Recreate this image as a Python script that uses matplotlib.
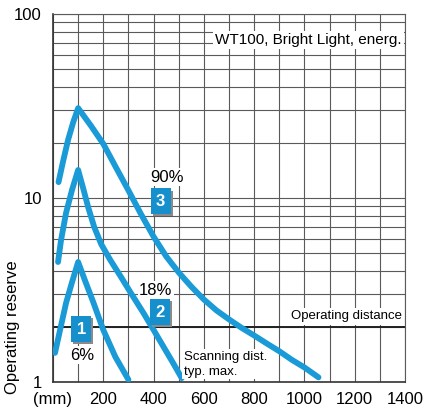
import matplotlib.pyplot as plt
import matplotlib.patheffects as pe
import numpy as np

plt.rcParams['font.family'] = ['Liberation Sans', 'DejaVu Sans']

# curve 1 (6 %)
dist1 = [8, 30, 52, 76, 100, 128, 160, 200, 248, 300]
res1 = [1.44, 1.97, 2.69, 3.5, 4.49, 3.54, 2.72, 1.92, 1.37, 1.03]
# curve 2 (18 %)
dist2 = [20, 32, 52, 76, 100, 120, 140, 164, 192, 228, 268, 312, 360, 400, 440, 476, 512]
res2 = [4.49, 5.9, 8.3, 11.1, 14.2, 11.3, 8.9, 6.95, 5.6, 4.60, 3.77, 3.01, 2.37, 1.92, 1.55, 1.28, 1.05]
# curve 3 (90 %)
dist3 = [22, 40, 60, 80, 100, 150, 200, 250, 300, 350, 400, 450, 500, 550, 600,
         650, 700, 750, 800, 850, 900, 950, 1000, 1056]
res3 = [12.2, 15.8, 20.7, 25.7, 30.8, 24.8, 19.7, 14.7, 11.0, 8.17, 6.17, 4.82, 3.94, 3.30, 2.81,
        2.45, 2.19, 1.97, 1.79, 1.62, 1.47, 1.32, 1.20, 1.06]

xticks = [0, 200, 400, 600, 800, 1000, 1200, 1400]
xticklabels = ['(mm)', '200', '400', '600', '800', '1000', '1200', '1400']
yticks = [1, 10, 100]
yticklabels = ['1', '10', '100']

blue = '#1a9ad6'
grid = '#5a5a5a'

fig = plt.figure(figsize=(4.26, 4.07), dpi=100)
ax = fig.add_axes([0.1244, 0.0614, 0.8263, 0.9042])
ax.set_yscale('log')
ax.set_xlim(0, 1400)
ax.set_ylim(1, 100)

ax.set_xticks(np.arange(0, 1401, 100), minor=True)
ax.set_xticks(xticks)
ax.set_xticklabels(xticklabels)
ax.set_yticks(yticks)
ax.set_yticklabels(yticklabels)
ax.grid(True, which='both', axis='both', color=grid, lw=0.8)
ax.tick_params(which='both', length=0, labelsize=12, pad=7)
ax.tick_params(axis='y', pad=8)
for s in ax.spines.values():
    s.set_color(grid)
    s.set_linewidth(0.8)
ax.spines['left'].set_color('#333333')
ax.spines['bottom'].set_color('#333333')
ax.spines['left'].set_linewidth(1.2)
ax.spines['bottom'].set_linewidth(1.2)

ax.axhline(2, color='#222222', lw=1.4, zorder=2)

for d, r in [(dist1, res1), (dist2, res2), (dist3, res3)]:
    ax.plot(d, r, color=blue, lw=4.2, solid_capstyle='round', solid_joinstyle='round', zorder=3)

fig.text(13 / 426, 1 - 327 / 407, 'Operating reserve', rotation=90, ha='center', va='center',
         fontsize=12)

ax.text(1388, 72, 'WT100, Bright Light, energ.', ha='right', va='center', fontsize=11,
        bbox=dict(facecolor='white', edgecolor='none', pad=1.5), zorder=4)
ax.text(1388, 2.27, 'Operating distance', ha='right', va='center', fontsize=9.5,
        bbox=dict(facecolor='white', edgecolor='none', pad=1.5), zorder=4)
ax.text(520, 1.25, 'Scanning dist.\ntyp. max.', ha='left', va='center', fontsize=9.5,
        linespacing=1.3, bbox=dict(facecolor='white', edgecolor='none', pad=1), zorder=4)

for x, y, lab in [(116, 1.40, '6%'), (408, 3.16, '18%'), (452, 13.0, '90%')]:
    ax.text(x, y, lab, ha='center', va='center', fontsize=12,
            bbox=dict(facecolor='white', edgecolor='none', pad=1), zorder=4)

for x, y, lab in [(112, 1.94, '1'), (424, 2.40, '2'), (428, 9.6, '3')]:
    t = ax.text(x, y, lab, ha='center', va='center', fontsize=12, color='white', fontweight='bold',
                bbox=dict(boxstyle='square,pad=0.32', facecolor='#1590cc', edgecolor='none'), zorder=5)
    t.get_bbox_patch().set_path_effects([
        pe.SimplePatchShadow(offset=(1.5, -1.5), shadow_rgbFace='#8a8a8a', alpha=1.0),
        pe.Normal()])

fig.savefig('out.png', dpi=100)
